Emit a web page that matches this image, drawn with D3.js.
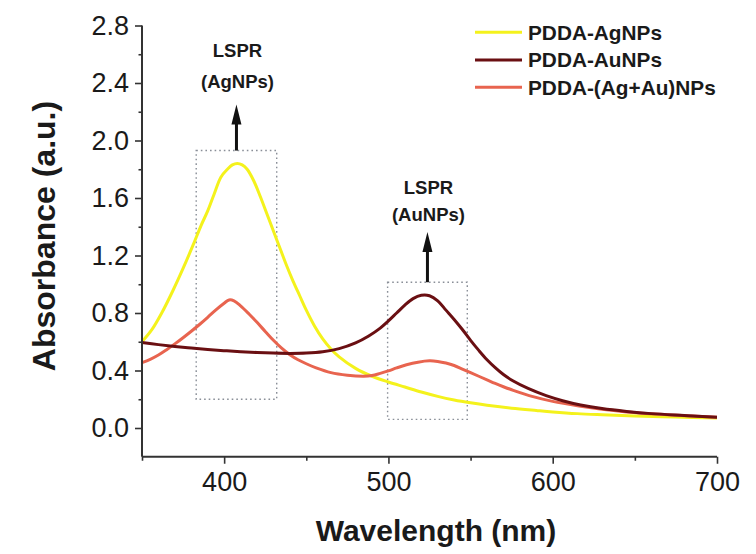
<!DOCTYPE html>
<html>
<head>
<meta charset="utf-8">
<script src="https://cdn.jsdelivr.net/npm/d3@7"></script>
<style>
  html, body { margin: 0; padding: 0; background: #ffffff; }
  svg { display: block; }
  text { font-family: "Liberation Sans", Arial, sans-serif; fill: #1a1a1a; }
</style>
</head>
<body>
<svg id="chart" width="756" height="554"></svg>
<script>
// UV-Vis absorbance spectra of PDDA-stabilised nanoparticles
const seriesNames = ["PDDA-AgNPs", "PDDA-AuNPs", "PDDA-(Ag+Au)NPs"];
const seriesColors = ["#f4f21c", "#6a0f12", "#e8644f"];

// PDDA-AgNPs
const agNm  = [350,356,362,369,375,381,386,390,394,398,402,405,408,411,414,418,422,426,430,434,438,442,446,450,455,460,465,470,480,490,500,510,520,530,540,550,560,575,590,600,615,630,650,675,700];
const agAbs = [0.60,0.684,0.80,0.96,1.11,1.27,1.41,1.51,1.63,1.745,1.80,1.83,1.84,1.83,1.80,1.72,1.61,1.49,1.37,1.25,1.13,1.02,0.92,0.82,0.71,0.62,0.55,0.495,0.415,0.36,0.32,0.285,0.25,0.22,0.195,0.175,0.158,0.138,0.122,0.112,0.10,0.092,0.083,0.076,0.07];

// PDDA-AuNPs
const auNm  = [350,360,370,380,390,400,410,420,430,440,450,460,470,480,488,495,500,505,510,515,520,525,530,535,540,545,550,555,560,565,570,576,585,596,606,617,630,645,660,680,700];
const auAbs = [0.595,0.58,0.567,0.556,0.546,0.538,0.531,0.525,0.521,0.519,0.521,0.53,0.552,0.592,0.64,0.695,0.745,0.80,0.855,0.90,0.923,0.92,0.885,0.82,0.755,0.685,0.61,0.54,0.475,0.42,0.372,0.327,0.275,0.225,0.19,0.16,0.135,0.115,0.10,0.087,0.075];

// PDDA-(Ag+Au)NPs
const mixNm  = [350,355,360,365,370,375,380,385,390,395,400,403,406,410,415,420,425,430,435,440,445,450,456,465,475,485,490,495,500,505,511,518,525,530,535,540,545,550,555,560,565,570,576,588,600,616,630,645,665,685,700];
const mixAbs = [0.455,0.478,0.508,0.545,0.585,0.628,0.673,0.72,0.77,0.822,0.868,0.891,0.885,0.85,0.795,0.735,0.672,0.61,0.555,0.51,0.475,0.447,0.418,0.385,0.367,0.36,0.365,0.38,0.397,0.418,0.44,0.458,0.467,0.463,0.452,0.435,0.41,0.385,0.36,0.335,0.31,0.287,0.262,0.218,0.185,0.153,0.13,0.112,0.095,0.083,0.075];

// axis ticks
const xTicks = [400, 500, 600, 700];
const xMinorTicks = [350, 450, 550, 650];
const yTicks = [0.0, 0.4, 0.8, 1.2, 1.6, 2.0, 2.4, 2.8];
const yMinorTicks = [0.2, 0.6, 1.0, 1.4, 1.8, 2.2, 2.6];

// LSPR bands: wavelength window, absorbance window, arrow tip, label baselines
const bandNames = ["(AgNPs)", "(AuNPs)"];
const bandNm = [[383, 432], [499.5, 548]];
const bandAbs = [[0.20, 1.93], [0.06, 1.014]];
const bandTip = [2.25, 1.363];
const bandLabelAbs = [[2.583, 2.363], [1.626, 1.442]];

const svg = d3.select("#chart");
const x = d3.scaleLinear().domain([350, 700]).range([142, 717]);
const y = d3.scaleLinear().domain([-0.2, 2.8]).range([456.75, 25.5]);

const axisColor = "#333";

// spectra
const spectra = [
  agNm.map((d, i) => [d, agAbs[i]]),
  auNm.map((d, i) => [d, auAbs[i]]),
  mixNm.map((d, i) => [d, mixAbs[i]])
];
const line = d3.line()
  .x(d => x(d[0]))
  .y(d => y(d[1]))
  .curve(d3.curveCatmullRom.alpha(0.5));

// dotted band boxes
bandNm.forEach((nm, i) => {
  svg.append("rect")
    .attr("x", x(nm[0]))
    .attr("y", y(bandAbs[i][1]))
    .attr("width", x(nm[1]) - x(nm[0]))
    .attr("height", y(bandAbs[i][0]) - y(bandAbs[i][1]))
    .attr("fill", "none")
    .attr("stroke", "#8a8f98")
    .attr("stroke-width", 1.4)
    .attr("stroke-dasharray", "1.6,3");
});

// draw order: yellow, red, dark on top
[0, 2, 1].forEach(i => {
  svg.append("path")
    .datum(spectra[i])
    .attr("d", line)
    .attr("fill", "none")
    .attr("stroke", seriesColors[i])
    .attr("stroke-width", 3)
    .attr("stroke-linejoin", "round");
});

// axes
const xAxis = svg.append("g").attr("transform", `translate(0,${y(-0.2)})`)
  .call(d3.axisBottom(x).tickValues(xTicks).tickSize(7).tickPadding(8).tickFormat(d3.format("d")));
const xMinor = svg.append("g").attr("transform", `translate(0,${y(-0.2)})`)
  .call(d3.axisBottom(x).tickValues(xMinorTicks).tickSize(4).tickFormat(""));
const yAxis = svg.append("g").attr("transform", `translate(${x(350)},0)`)
  .call(d3.axisLeft(y).tickValues(yTicks).tickSize(7).tickPadding(6).tickFormat(d3.format(".1f")));
const yMinor = svg.append("g").attr("transform", `translate(${x(350)},0)`)
  .call(d3.axisLeft(y).tickValues(yMinorTicks).tickSize(3.5).tickFormat(""));

[xAxis, xMinor, yAxis, yMinor].forEach(g => {
  g.select(".domain").attr("stroke", axisColor).attr("stroke-width", 2);
  g.selectAll(".tick line").attr("stroke", axisColor).attr("stroke-width", 1.6);
  g.selectAll(".tick text").attr("font-size", 27).attr("fill", "#1a1a1a")
    .style("font-family", "'Liberation Sans', Arial, sans-serif");
});
xAxis.select(".domain").attr("d", `M${x(350)},0H${x(700)}`);
xMinor.select(".domain").remove();
yMinor.select(".domain").remove();
yAxis.select(".domain").attr("d", `M0,${y(2.8)}V${y(-0.2)}`);

// axis titles
svg.append("text")
  .attr("x", 436).attr("y", 541)
  .attr("text-anchor", "middle")
  .attr("font-size", 30).attr("font-weight", "bold")
  .text("Wavelength (nm)");
svg.append("text")
  .attr("transform", "translate(55,236) rotate(-90)")
  .attr("text-anchor", "middle")
  .attr("font-size", 32).attr("font-weight", "bold")
  .text("Absorbance (a.u.)");

// LSPR arrows and labels
bandNm.forEach((nm, i) => {
  const cx = x((nm[0] + nm[1]) / 2);
  const base = y(bandAbs[i][1]);
  const tip = y(bandTip[i]);
  const headLen = 20, headHalf = 5;
  svg.append("line")
    .attr("x1", cx).attr("x2", cx)
    .attr("y1", base).attr("y2", tip + headLen - 2)
    .attr("stroke", "#111").attr("stroke-width", 3);
  svg.append("path")
    .attr("d", `M${cx},${tip}L${cx + headHalf},${tip + headLen}L${cx - headHalf},${tip + headLen}Z`)
    .attr("fill", "#111");
  ["LSPR", bandNames[i]].forEach((t, k) => {
    svg.append("text")
      .attr("x", cx + 1).attr("y", y(bandLabelAbs[i][k]))
      .attr("text-anchor", "middle")
      .attr("font-size", 18.5).attr("font-weight", "bold")
      .text(t);
  });
});

// legend
const legendRows = [32.3, 60, 87.3];
seriesNames.forEach((name, i) => {
  const g = svg.append("g").attr("transform", `translate(0,${legendRows[i]})`);
  g.append("line")
    .attr("x1", 475).attr("x2", 522)
    .attr("y1", 0).attr("y2", 0)
    .attr("stroke", seriesColors[i]).attr("stroke-width", 3);
  g.append("text")
    .attr("x", 528).attr("y", 7.4)
    .attr("font-size", 20.8).attr("font-weight", "bold")
    .text(name);
});
</script>
</body>
</html>
